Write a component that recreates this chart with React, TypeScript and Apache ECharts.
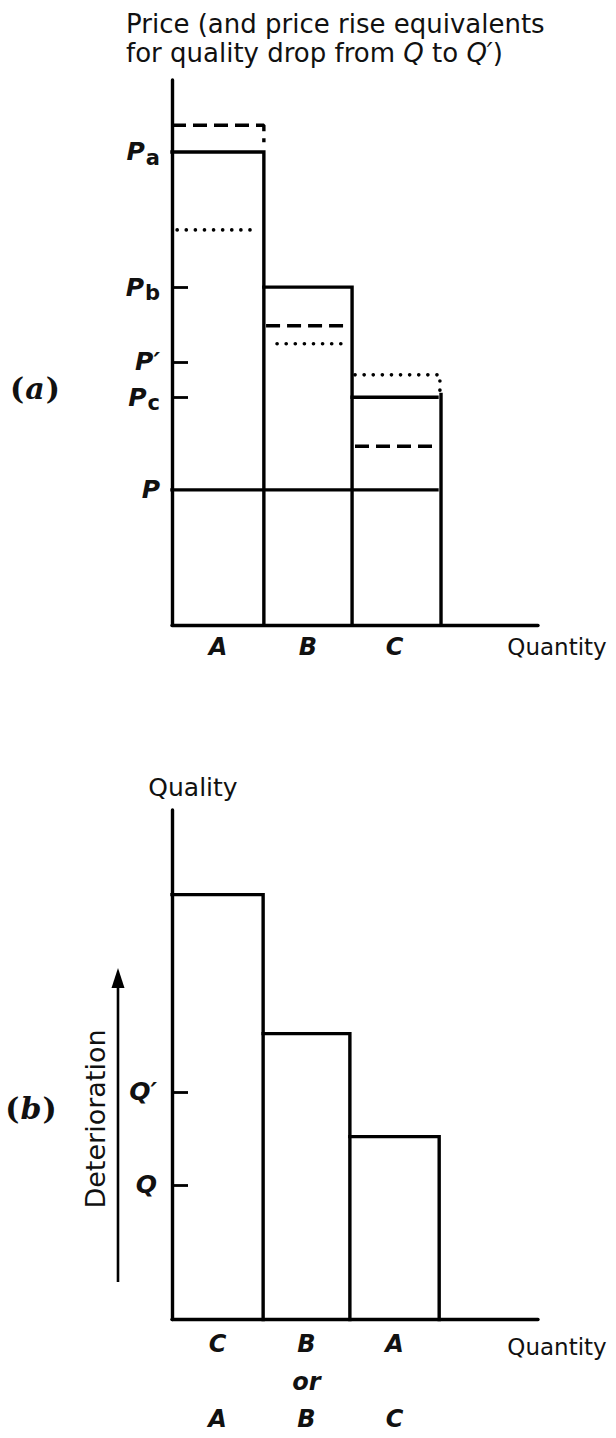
import React, { useEffect, useRef } from "react";
import * as echarts from "echarts";

const FONT = "'DejaVu Sans', sans-serif";
const SERIF = "'DejaVu Serif', serif";

// ---------- Panel (a): price ----------
const goodsA = ["A", "B", "C"];
const edgesA = [0, 2.51, 4.92, 7.24]; // quantity boundaries of A, B, C
const cRightEdge = 7.35; // separate right edge of C
const cRightTop = 42.3;
const priceTops = [86.8, 62.0, 41.8]; // Pa, Pb, Pc
const priceBase = 24.8; // P
const dashedLevels = [91.7, 54.9, 32.8];
const dashedFrom = [0, 2.57, 5.0];
const dashedTo = [2.51, 4.86, 7.19];
const dashedDrop = [88.6, null, null];
const dottedLevels = [72.5, 51.6, 45.9];
const dottedFrom = [0.14, 2.87, 5.0];
const dottedTo = [2.35, 4.67, 7.32];
const dottedDrop = [null, null, 42.2];
const priceLabelValues = [86.8, 62.0, 48.3, 41.8, 24.8];
const priceLabels = ["{p|P}{s|a}", "{p|P}{s|b}", "{p|P′}", "{p|P}{s|c}", "{p|P}"];
const priceTickValues = [62.0, 48.3, 41.8];

// ---------- Panel (b): quality ----------
const goodsBTop = ["C", "B", "A"];
const goodsBMid = [" ", "or", " "];
const goodsBBottom = ["A", "B", "C"];
const edgesB = [0, 2.49, 4.86, 7.3];
const qualityTops = [83.4, 56.1, 35.9];
const qualityLabelValues = [44.7, 26.4];
const qualityLabels = ["{q|Q′}", "{q|Q}"];

const XMAX = 10;
const YMAX = 100;

const mids = (e: number[]) => e.slice(0, -1).map((v, i) => (v + e[i + 1]) / 2);
const idxOf = (arr: number[], v: number) => arr.findIndex((m) => Math.abs(m - v) < 1e-6);

const solid = { color: "#000", width: 3.4, type: "solid" as const, cap: "square" as const, join: "miter" as const };
const dashed = { color: "#000", width: 3.4, type: [14, 7], cap: "butt" as const };
const dotted = { color: "#000", width: 3.6, type: [0.1, 9], cap: "round" as const };

function lineSeries(data: number[][], style: any, gi: number) {
  return {
    type: "line",
    xAxisIndex: gi,
    yAxisIndex: gi,
    data,
    symbol: "none",
    silent: true,
    clip: false,
    lineStyle: style,
  };
}

export default function App() {
  const ref = useRef<HTMLDivElement>(null);
  useEffect(() => {
    if (!ref.current) return;
    const chart = echarts.init(ref.current, undefined, { renderer: "svg" });
    const midsA = mids(edgesA);
    const midsB = mids(edgesB);

    const series: any[] = [];
    // Panel (a) solid outlines
    for (let i = 0; i < 3; i++) {
      if (i < 2) {
        series.push(
          lineSeries(
            [
              [edgesA[i], priceTops[i]],
              [edgesA[i + 1], priceTops[i]],
              [edgesA[i + 1], 0],
            ],
            solid,
            0
          )
        );
      } else {
        series.push(lineSeries([[edgesA[i], priceTops[i]], [edgesA[i + 1], priceTops[i]]], solid, 0));
      }
    }
    series.push(lineSeries([[cRightEdge, cRightTop], [cRightEdge, 0]], solid, 0));
    series.push(lineSeries([[0, priceBase], [edgesA[3], priceBase]], solid, 0));
    // dashed
    for (let i = 0; i < 3; i++) {
      const d: number[][] = [
        [dashedFrom[i], dashedLevels[i]],
        [dashedTo[i], dashedLevels[i]],
      ];
      if (dashedDrop[i] != null) d.push([dashedTo[i], dashedDrop[i] as number]);
      series.push(lineSeries(d, dashed, 0));
    }
    // dotted
    for (let i = 0; i < 3; i++) {
      const d: number[][] = [
        [dottedFrom[i], dottedLevels[i]],
        [dottedTo[i], dottedLevels[i]],
      ];
      if (dottedDrop[i] != null) d.push([dottedTo[i], dottedDrop[i] as number]);
      series.push(lineSeries(d, dotted, 0));
    }
    // Panel (b) outlines
    for (let i = 0; i < 3; i++) {
      series.push(
        lineSeries(
          [
            [edgesB[i], qualityTops[i]],
            [edgesB[i + 1], qualityTops[i]],
            [edgesB[i + 1], 0],
          ],
          solid,
          1
        )
      );
    }

    const axisLineStyle = { show: true, onZero: false, lineStyle: { color: "#000", width: 3.4 } };

    const option: any = {
      animation: false,
      backgroundColor: "#ffffff",
      grid: [
        { left: 172, top: 80, width: 366, height: 545 },
        { left: 172, top: 810, width: 366, height: 512 },
      ],
      xAxis: [
        {
          type: "value",
          gridIndex: 0,
          min: 0,
          max: XMAX,
          axisLine: axisLineStyle,
          axisTick: { show: false },
          splitLine: { show: false },
          axisLabel: {
            customValues: midsA,
            formatter: (v: number) => goodsA[idxOf(midsA, v)] ?? "",
            color: "#111",
            fontFamily: FONT,
            fontSize: 24,
            fontStyle: "italic",
            fontWeight: "bold",
            lineHeight: 28,
            margin: 8,
          },
        },
        {
          type: "value",
          gridIndex: 1,
          min: 0,
          max: XMAX,
          axisLine: axisLineStyle,
          axisTick: { show: false },
          splitLine: { show: false },
          axisLabel: {
            customValues: midsB,
            formatter: (v: number) => {
              const i = idxOf(midsB, v);
              if (i < 0) return "";
              return goodsBTop[i] + "\n" + goodsBMid[i] + "\n" + goodsBBottom[i];
            },
            color: "#111",
            fontFamily: FONT,
            fontSize: 24,
            fontStyle: "italic",
            fontWeight: "bold",
            lineHeight: 37.5,
            margin: 6,
          },
        },
      ],
      yAxis: [
        {
          type: "value",
          gridIndex: 0,
          min: 0,
          max: YMAX,
          axisLine: axisLineStyle,
          splitLine: { show: false },
          axisTick: {
            show: true,
            inside: true,
            length: 16,
            customValues: priceTickValues,
            lineStyle: { color: "#000", width: 2.8 },
          },
          axisLabel: {
            customValues: priceLabelValues,
            formatter: (v: number) => priceLabels[idxOf(priceLabelValues, v)] ?? "",
            margin: 12,
            color: "#111",
            rich: {
              p: { fontFamily: FONT, fontSize: 25, fontStyle: "italic", fontWeight: "bold", color: "#111" },
              s: { fontFamily: FONT, fontSize: 21, fontWeight: "bold", color: "#111", padding: [12, 0, 0, 1] },
            },
          },
        },
        {
          type: "value",
          gridIndex: 1,
          min: 0,
          max: YMAX,
          axisLine: axisLineStyle,
          splitLine: { show: false },
          axisTick: {
            show: true,
            inside: true,
            length: 16,
            customValues: qualityLabelValues,
            lineStyle: { color: "#000", width: 2.8 },
          },
          axisLabel: {
            customValues: qualityLabelValues,
            formatter: (v: number) => qualityLabels[idxOf(qualityLabelValues, v)] ?? "",
            margin: 15,
            color: "#111",
            rich: {
              q: { fontFamily: FONT, fontSize: 25, fontStyle: "italic", fontWeight: "bold", color: "#111" },
            },
          },
        },
      ],
      series,
      graphic: [
        {
          type: "text",
          x: 126,
          y: 24,
          style: {
            text: "Price (and price rise equivalents",
            fontFamily: FONT,
            fontSize: 26,
            fill: "#111",
            textAlign: "left",
            textVerticalAlign: "middle",
            align: "left",
            verticalAlign: "middle",
          },
        },
        {
          type: "text",
          x: 126,
          y: 53,
          style: {
            text: "{n|for quality drop from }{i|Q}{n| to }{i|Q′}{n|)}",
            fontFamily: FONT,
            fontSize: 26,
            fill: "#111",
            textAlign: "left",
            textVerticalAlign: "middle",
            align: "left",
            verticalAlign: "middle",
            rich: {
              n: { fontFamily: FONT, fontSize: 26, fill: "#111", color: "#111" },
              i: { fontFamily: FONT, fontSize: 26, fontStyle: "italic", fill: "#111", color: "#111" },
            },
          },
        },
        {
          type: "text",
          x: 35,
          y: 388,
          style: {
            text: "{n|(}{i|a}{n|)}",
            fill: "#111",
            textAlign: "center",
            textVerticalAlign: "middle",
            align: "center",
            verticalAlign: "middle",
            rich: {
              n: { fontFamily: SERIF, fontSize: 30, fontWeight: "bold", fill: "#111", color: "#111" },
              i: { fontFamily: SERIF, fontSize: 30, fontStyle: "italic", fontWeight: "bold", fill: "#111", color: "#111", padding: [0, 1, 0, 1] },
            },
          },
        },
        {
          type: "text",
          x: 31,
          y: 1108,
          style: {
            text: "{n|(}{i|b}{n|)}",
            fill: "#111",
            textAlign: "center",
            textVerticalAlign: "middle",
            align: "center",
            verticalAlign: "middle",
            rich: {
              n: { fontFamily: SERIF, fontSize: 30, fontWeight: "bold", fill: "#111", color: "#111" },
              i: { fontFamily: SERIF, fontSize: 30, fontStyle: "italic", fontWeight: "bold", fill: "#111", color: "#111", padding: [0, 1, 0, 1] },
            },
          },
        },
        {
          type: "text",
          x: 557,
          y: 647,
          style: {
            text: "Quantity",
            fontFamily: FONT,
            fontSize: 23,
            fill: "#111",
            textAlign: "center",
            textVerticalAlign: "middle",
            align: "center",
            verticalAlign: "middle",
          },
        },
        {
          type: "text",
          x: 557,
          y: 1347,
          style: {
            text: "Quantity",
            fontFamily: FONT,
            fontSize: 23,
            fill: "#111",
            textAlign: "center",
            textVerticalAlign: "middle",
            align: "center",
            verticalAlign: "middle",
          },
        },
        {
          type: "text",
          x: 193,
          y: 787,
          style: {
            text: "Quality",
            fontFamily: FONT,
            fontSize: 25,
            fill: "#111",
            textAlign: "center",
            textVerticalAlign: "middle",
            align: "center",
            verticalAlign: "middle",
          },
        },
        {
          type: "text",
          x: 95,
          y: 1119,
          rotation: Math.PI / 2,
          style: {
            text: "Deterioration",
            fontFamily: FONT,
            fontSize: 27,
            fill: "#111",
            textAlign: "center",
            textVerticalAlign: "middle",
            align: "center",
            verticalAlign: "middle",
          },
        },
        {
          type: "line",
          shape: { x1: 118, y1: 1282, x2: 118, y2: 984 },
          style: { stroke: "#000", lineWidth: 2.6 },
        },
        {
          type: "polygon",
          shape: { points: [[118, 968], [111.5, 988], [124.5, 988]] },
          style: { fill: "#000" },
        },
      ],
    };
    chart.setOption(option);
    return () => chart.dispose();
  }, []);
  return (
    <div
      ref={ref}
      style={{ position: "absolute", left: 0, top: 0, width: 616, height: 1438, background: "#fff" }}
    />
  );
}
